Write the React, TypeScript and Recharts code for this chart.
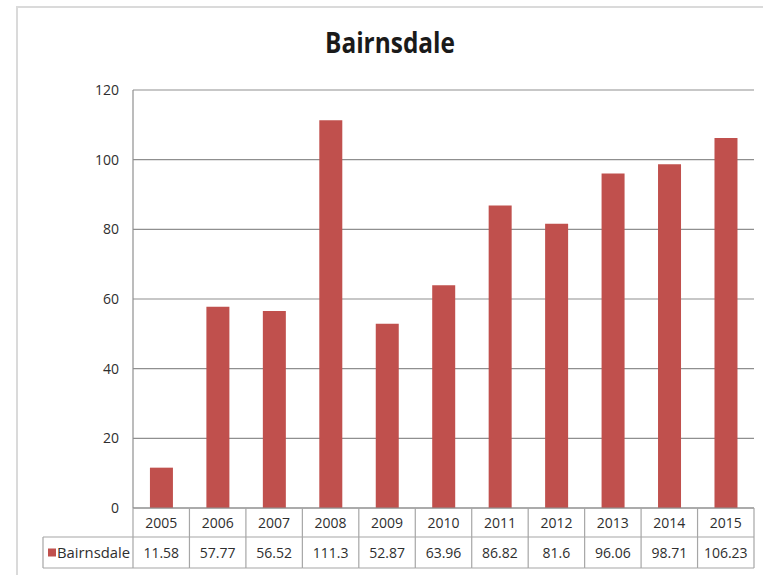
import React from "react";
import { BarChart, Bar, XAxis, YAxis, CartesianGrid } from "recharts";

// Annual values for Bairnsdale, 2005–2015
const years = ["2005", "2006", "2007", "2008", "2009", "2010", "2011", "2012", "2013", "2014", "2015"];
const bairnsdale = [11.58, 57.77, 56.52, 111.3, 52.87, 63.96, 86.82, 81.6, 96.06, 98.71, 106.23];
const yTicks = [0, 20, 40, 60, 80, 100, 120];
const seriesName = "Bairnsdale";

const data = years.map((year, i) => ({ year, value: bairnsdale[i] }));

const W = 763;
const H = 575;
const TABLE_H = 67;
const MARGIN = { top: 90, right: 9, bottom: 0, left: 0 };
const Y_AXIS_W = 133;
const PLOT_W = W - MARGIN.left - MARGIN.right - Y_AXIS_W;
const CELL_W = PLOT_W / years.length;
const ROW1 = 29;
const ROW2 = 31;
const LEGEND_CELL_W = 90;

const BAR_COLOR = "#C0504D";
const GRID_COLOR = "#8f8f8f";
const TABLE_COLOR = "#a6a6a6";
const TEXT_COLOR = "#2e2e2e";
const FONT = "'Open Sans', 'Noto Sans', sans-serif";
const FS = 14;

// Data table under the plot: header row with the year, value row below it.
const TableTick = (props: any) => {
  const { x, y, payload, index } = props;
  const left = x - CELL_W / 2;
  const right = x + CELL_W / 2;
  const value = bairnsdale[index];
  return (
    <g>
      <line x1={right} y1={y} x2={right} y2={y + ROW1 + ROW2} stroke={TABLE_COLOR} strokeWidth={1.2} />
      <line x1={left} y1={y + ROW1} x2={right} y2={y + ROW1} stroke={TABLE_COLOR} strokeWidth={1.2} />
      <line x1={left} y1={y + ROW1 + ROW2} x2={right} y2={y + ROW1 + ROW2} stroke={TABLE_COLOR} strokeWidth={1.2} />
      <text x={x} y={y + ROW1 / 2 + 5} textAnchor="middle" fontSize={FS} fontFamily={FONT} fill={TEXT_COLOR}>
        {payload.value}
      </text>
      <text x={x} y={y + ROW1 + ROW2 / 2 + 5} textAnchor="middle" fontSize={FS} fontFamily={FONT} fill={TEXT_COLOR}>
        {String(value)}
      </text>
      {index === 0 && (
        <g>
          <line x1={left} y1={y} x2={left} y2={y + ROW1 + ROW2} stroke={TABLE_COLOR} strokeWidth={1.2} />
          <line x1={left - LEGEND_CELL_W} y1={y + ROW1} x2={left} y2={y + ROW1} stroke={TABLE_COLOR} strokeWidth={1.2} />
          <line x1={left - LEGEND_CELL_W} y1={y + ROW1 + ROW2} x2={left} y2={y + ROW1 + ROW2} stroke={TABLE_COLOR} strokeWidth={1.2} />
          <line x1={left - LEGEND_CELL_W} y1={y + ROW1} x2={left - LEGEND_CELL_W} y2={y + ROW1 + ROW2} stroke={TABLE_COLOR} strokeWidth={1.2} />
          <rect x={left - LEGEND_CELL_W + 5} y={y + ROW1 + ROW2 / 2 - 4} width={8} height={8} fill={BAR_COLOR} />
          <text
            x={left - LEGEND_CELL_W + 14}
            y={y + ROW1 + ROW2 / 2 + 5}
            fontSize={FS}
            fontFamily={FONT}
            fill={TEXT_COLOR}
            textLength={73}
            lengthAdjust="spacingAndGlyphs"
          >
            {seriesName}
          </text>
        </g>
      )}
    </g>
  );
};

export default function App() {
  return (
    <div style={{ position: "absolute", left: 0, top: 0, width: W, height: H, overflow: "hidden", background: "#fff" }}>
      <div
        style={{
          position: "absolute",
          left: 16,
          top: 6,
          width: W,
          height: H,
          border: "2px solid #dadada",
          boxSizing: "border-box",
        }}
      />
      <svg style={{ position: "absolute", left: 0, top: 0 }} width={W} height={80}>
        <text
          x={390}
          y={53}
          textAnchor="middle"
          fontSize={29}
          fontWeight="bold"
          fontFamily={FONT}
          fill="#1a1a1a"
          textLength={130}
          lengthAdjust="spacingAndGlyphs"
        >
          {seriesName}
        </text>
      </svg>
      <div style={{ position: "absolute", left: 0, top: 0 }}>
        <BarChart width={W} height={H} data={data} margin={MARGIN} barCategoryGap="30%">
          <CartesianGrid horizontal vertical={false} stroke={GRID_COLOR} strokeWidth={1.2} />
          <XAxis
            dataKey="year"
            axisLine={{ stroke: GRID_COLOR, strokeWidth: 1.2 }}
            tickLine={false}
            tickSize={0}
            tickMargin={0}
            height={TABLE_H}
            interval={0}
            tick={<TableTick />}
          />
          <YAxis
            width={Y_AXIS_W}
            domain={[0, 120]}
            ticks={yTicks}
            axisLine={{ stroke: GRID_COLOR, strokeWidth: 1.2 }}
            tickLine={false}
            tickSize={6}
            tickMargin={8}
            tick={{ fontSize: FS, fontFamily: FONT, fill: TEXT_COLOR }}
          />
          <Bar dataKey="value" fill={BAR_COLOR} isAnimationActive={false} />
        </BarChart>
      </div>
    </div>
  );
}
